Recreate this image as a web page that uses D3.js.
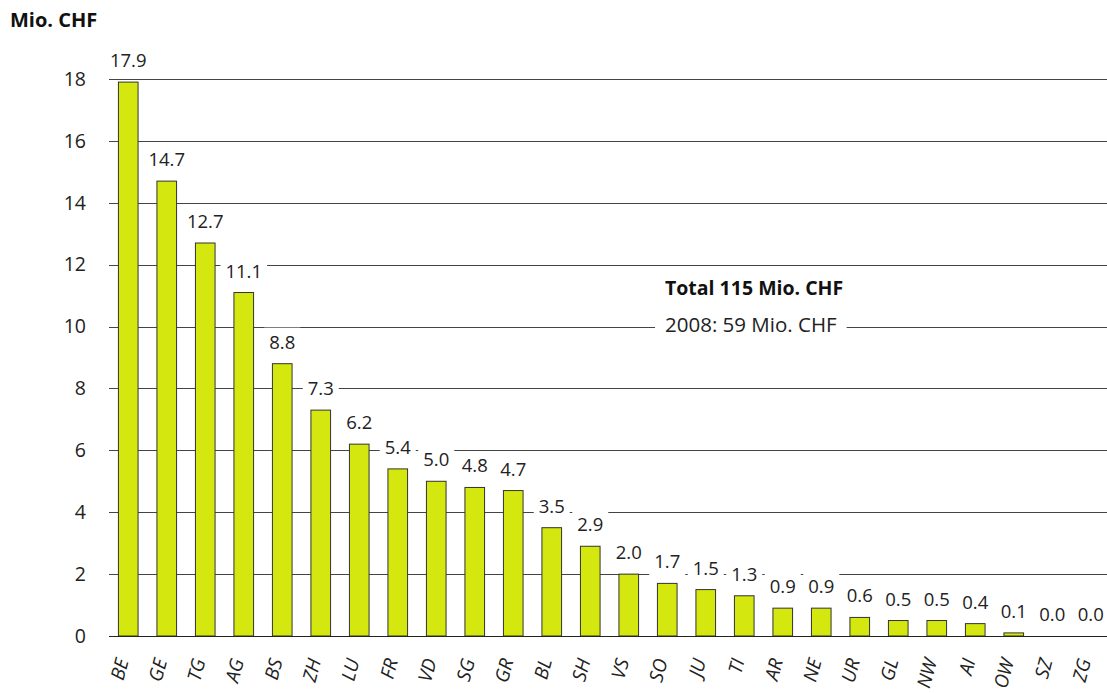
<!DOCTYPE html>
<html>
<head>
<meta charset="utf-8">
<script src="https://cdn.jsdelivr.net/npm/d3@7"></script>
<style>
  body { margin: 0; background: #fff; }
  svg { display: block; font-family: "Open Sans", sans-serif; }
</style>
</head>
<body>
<svg id="chart" width="1107" height="693"></svg>
<script>
// cantons and amounts (Mio. CHF)
const cantons = ["BE", "GE", "TG", "AG", "BS", "ZH", "LU", "FR", "VD", "SG", "GR", "BL", "SH",
    "VS", "SO", "JU", "TI", "AR", "NE", "UR", "GL", "NW", "AI", "OW", "SZ", "ZG"];
const values = [17.9, 14.7, 12.7, 11.1, 8.8, 7.3, 6.2, 5.4, 5.0, 4.8, 4.7, 3.5, 2.9,
    2.0, 1.7, 1.5, 1.3, 0.9, 0.9, 0.6, 0.5, 0.5, 0.4, 0.1, 0.0, 0.0];
const yTicks = [0, 2, 4, 6, 8, 10, 12, 14, 16, 18];
const unitLabel = "Mio. CHF";
const totalLabel = "Total 115 Mio. CHF";
const prevLabel = "2008: 59 Mio. CHF";

const data = cantons.map((c, i) => ({ canton: c, value: values[i] }));

const width = 1107, height = 693;
const margin = { top: 79, right: 0, bottom: 57, left: 109 };

const svg = d3.select("#chart");

const x = d3.scaleBand()
    .domain(cantons)
    .range([margin.left, margin.left + 26 * 38.5])
    .paddingInner(0.49)
    .paddingOuter(0.245);

const y = d3.scaleLinear()
    .domain([0, 18])
    .range([height - margin.bottom, margin.top]);

// title
svg.append("text")
    .attr("x", 10)
    .attr("y", 27)
    .attr("font-size", 20)
    .attr("font-weight", "bold")
    .attr("fill", "#111")
    .text(unitLabel);

// gridlines + y labels
svg.append("g")
    .selectAll("line")
    .data(yTicks.filter(d => d > 0))
    .join("line")
    .attr("x1", margin.left)
    .attr("x2", width)
    .attr("y1", d => Math.round(y(d)) + 0.5)
    .attr("y2", d => Math.round(y(d)) + 0.5)
    .attr("stroke", "#444")
    .attr("stroke-width", 1);

svg.append("g")
    .selectAll("text")
    .data(yTicks)
    .join("text")
    .attr("x", 86)
    .attr("y", d => y(d))
    .attr("dy", "0.35em")
    .attr("text-anchor", "end")
    .attr("font-size", 19.5)
    .attr("fill", "#222")
    .text(d => d);

// total annotation
svg.append("text")
    .attr("x", 665)
    .attr("y", 295)
    .attr("font-size", 19.5)
    .attr("font-weight", "bold")
    .attr("fill", "#111")
    .text(totalLabel);

const prev = svg.append("g");
const prevBox = prev.append("rect").attr("fill", "#fff");
const prevText = prev.append("text")
    .attr("x", 665)
    .attr("y", 332)
    .attr("font-size", 20.5)
    .attr("fill", "#222")
    .text(prevLabel);
const pw = prevText.node().getComputedTextLength();
prevBox.attr("x", 655).attr("y", 314).attr("width", pw + 20).attr("height", 24);

// bars
svg.append("g")
    .selectAll("rect")
    .data(data.filter(d => d.value > 0))
    .join("rect")
    .attr("x", d => x(d.canton))
    .attr("y", d => y(d.value))
    .attr("width", x.bandwidth())
    .attr("height", d => y(0) - y(d.value))
    .attr("fill", "#d4e80f")
    .attr("stroke", "#333")
    .attr("stroke-width", 1);

// x axis line
svg.append("line")
    .attr("x1", margin.left)
    .attr("x2", width)
    .attr("y1", Math.round(y(0)) + 0.5)
    .attr("y2", Math.round(y(0)) + 0.5)
    .attr("stroke", "#222")
    .attr("stroke-width", 1.2);

// value labels with white boxes
const labels = svg.append("g")
    .selectAll("g")
    .data(data)
    .join("g")
    .attr("transform", d => `translate(${x(d.canton) + x.bandwidth() / 2},${y(d.value) - 15})`);

labels.append("rect")
    .attr("fill", "#fff");

labels.append("text")
    .attr("text-anchor", "middle")
    .attr("font-size", 18.5)
    .attr("fill", "#222")
    .text(d => d3.format(".1f")(d.value))
    .each(function () {
        const w = this.getComputedTextLength() + 10;
        d3.select(this.previousSibling)
            .attr("x", -w / 2)
            .attr("y", -21)
            .attr("width", w)
            .attr("height", 30);
    });

// category labels
svg.append("g")
    .selectAll("text")
    .data(cantons)
    .join("text")
    .attr("transform", d => `translate(${x(d) + x.bandwidth() / 2 - 6},${y(0) + 23}) rotate(-75)`)
    .attr("text-anchor", "end")
    .attr("dy", "0.35em")
    .attr("font-size", 19)
    .attr("font-style", "italic")
    .attr("fill", "#222")
    .text(d => d);
</script>
</body>
</html>
